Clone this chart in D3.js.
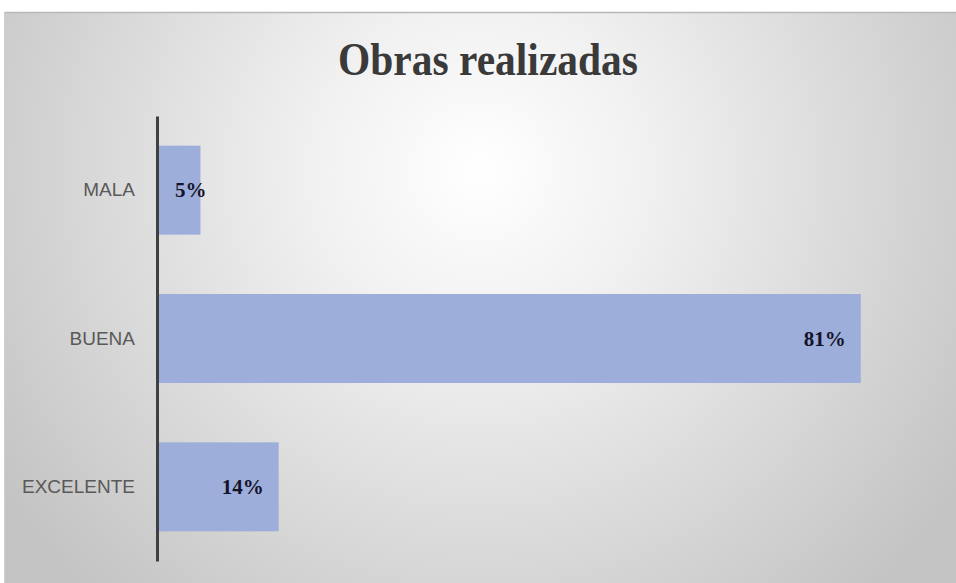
<!DOCTYPE html>
<html><head><meta charset="utf-8">
<script src="https://cdn.jsdelivr.net/npm/d3@7"></script>
<style>html,body{margin:0;padding:0;background:#fff;}svg{display:block;}</style>
</head><body>
<svg id="c" width="956" height="583"></svg>
<script>
const title = "Obras realizadas";
const categories = ["MALA", "BUENA", "EXCELENTE"];
const values = [0.05, 0.81, 0.14];
const valueLabels = ["5%", "81%", "14%"];

const svg = d3.select("#c");
const W = 956, H = 583;
const defs = svg.append("defs");
const g = defs.append("radialGradient").attr("id","bg")
  .attr("gradientUnits","userSpaceOnUse").attr("cx",480).attr("cy",170).attr("r",580);
g.append("stop").attr("offset","0").attr("stop-color","#ffffff");
g.append("stop").attr("offset","0.3").attr("stop-color","#f0f0f0");
g.append("stop").attr("offset","1").attr("stop-color","#c3c3c3");

svg.append("rect").attr("x",4).attr("y",12).attr("width",W-4).attr("height",H-12)
  .attr("fill","url(#bg)");
svg.append("line").attr("x1",4).attr("x2",W).attr("y1",12.5).attr("y2",12.5)
  .attr("stroke","#b8b8b8").attr("stroke-width",1.5);
svg.append("line").attr("x1",4.5).attr("x2",4.5).attr("y1",12).attr("y2",H)
  .attr("stroke","#cfcfcf").attr("stroke-width",1);

svg.append("text").attr("x",488).attr("y",75).attr("text-anchor","middle")
  .attr("font-family","'Liberation Serif','Times New Roman',serif")
  .attr("font-weight","bold").attr("font-size",46).attr("fill","#3a3a3a")
  .attr("textLength",300).attr("lengthAdjust","spacingAndGlyphs")
  .text(title);

const x = d3.scaleLinear().domain([0, 0.9]).range([157, 939]);
const y = d3.scaleBand().domain(categories).range([116, 561]).paddingInner(0.4).paddingOuter(0.2);

svg.selectAll("rect.bar").data(categories).enter().append("rect")
  .attr("class","bar")
  .attr("x", x(0))
  .attr("y", d => y(d))
  .attr("width", (d,i) => x(values[i]) - x(0))
  .attr("height", y.bandwidth())
  .attr("fill","#9eaedb");

const yAxis = d3.axisLeft(y).tickSize(0).tickPadding(22);
const ag = svg.append("g").attr("transform",`translate(${x(0)},0)`).call(yAxis);
ag.select(".domain").attr("stroke","#404040").attr("stroke-width",3);
ag.selectAll("text").attr("font-family","'Liberation Sans',Arial,sans-serif")
  .attr("font-size",19).attr("fill","#595959");

const labels = svg.selectAll("text.val").data(categories).enter().append("text")
  .attr("class","val")
  .attr("y", d => y(d) + y.bandwidth()/2 + 7)
  .attr("text-anchor","end")
  .attr("font-family","'Liberation Serif','Times New Roman',serif")
  .attr("font-weight","bold").attr("font-size",21).attr("fill","#14142a")
  .text((d,i) => valueLabels[i]);
labels.each(function(d,i){
  const w = this.getComputedTextLength();
  const xe = Math.max(x(values[i]) - 15, x(0) + 18 + w);
  d3.select(this).attr("x", xe);
});
</script>
</body></html>
